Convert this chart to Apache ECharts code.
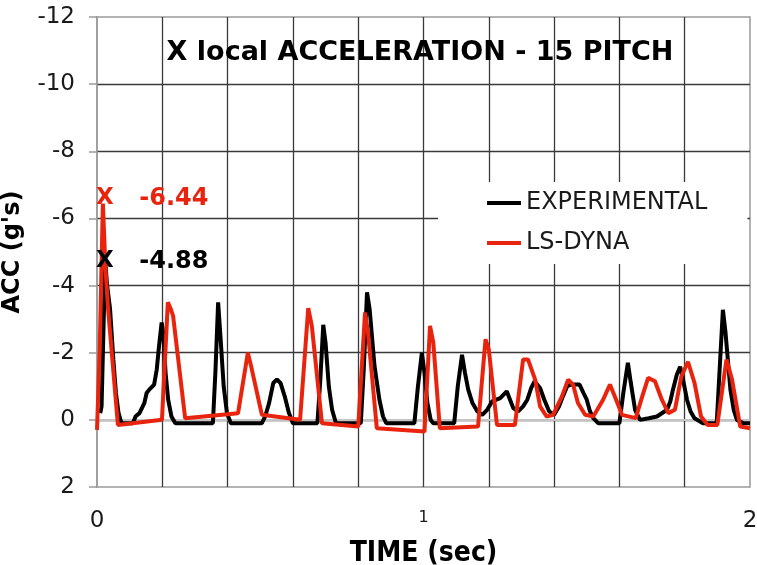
<!DOCTYPE html>
<html>
<head>
<meta charset="utf-8">
<script src="https://cdn.jsdelivr.net/npm/echarts@6/dist/echarts.min.js"></script>
<style>html,body{margin:0;padding:0;background:#fff}#c{width:757px;height:565px}</style>
</head>
<body>
<div id="c"></div>
<script>
// ---- data ----
var titleText = 'X local ACCELERATION - 15 PITCH';
var seriesNames = ['EXPERIMENTAL', 'LS-DYNA'];
var xTickLabels = ['0', '1', '2'];
var yTicks = [-12, -10, -8, -6, -4, -2, 0, 2];

var expT = [0.010,0.014,0.025,0.031,0.040,0.050,0.058,0.066,0.075,0.110,0.118,0.130,0.145,0.152,0.160,0.175,0.183,0.190,0.198,0.203,0.210,0.218,0.228,0.240,0.355,0.363,0.371,0.378,0.388,0.398,0.410,0.505,0.515,0.527,0.540,0.551,0.562,0.575,0.588,0.600,0.675,0.684,0.693,0.700,0.710,0.720,0.732,0.808,0.817,0.827,0.835,0.850,0.865,0.876,0.886,0.972,0.983,0.995,1.003,1.012,1.022,1.030,1.094,1.105,1.118,1.127,1.137,1.150,1.165,1.180,1.195,1.210,1.235,1.255,1.265,1.275,1.290,1.305,1.318,1.330,1.340,1.357,1.370,1.385,1.400,1.415,1.427,1.440,1.452,1.478,1.490,1.500,1.510,1.520,1.535,1.600,1.612,1.626,1.635,1.648,1.663,1.690,1.715,1.746,1.756,1.764,1.776,1.786,1.795,1.807,1.818,1.830,1.856,1.898,1.907,1.917,1.925,1.940,1.950,1.960,1.980,2.000];
var expV = [-0.2,-0.4,-4.75,-4.0,-3.3,-1.8,-0.8,-0.2,0.1,0.1,-0.1,-0.2,-0.5,-0.8,-0.9,-1.05,-1.5,-2.2,-2.9,-2.6,-1.4,-0.6,-0.1,0.1,0.1,-1.5,-3.5,-2.5,-1.0,-0.2,0.1,0.1,-0.1,-0.5,-1.1,-1.2,-1.1,-0.7,-0.2,0.1,0.1,-1.2,-2.83,-2.3,-1.0,-0.3,0.1,0.1,-1.5,-3.8,-3.3,-1.6,-0.6,-0.1,0.1,0.1,-1.0,-2.0,-1.4,-0.5,0.0,0.1,0.1,-1.0,-1.94,-1.4,-0.9,-0.5,-0.25,-0.15,-0.3,-0.55,-0.65,-0.85,-0.6,-0.35,-0.25,-0.4,-0.6,-0.95,-1.15,-0.95,-0.6,-0.25,-0.15,-0.4,-0.7,-1.0,-1.05,-1.05,-0.8,-0.6,-0.25,-0.05,0.1,0.1,-0.8,-1.7,-1.1,-0.3,0.0,-0.05,-0.1,-0.3,-0.55,-0.9,-1.35,-1.58,-1.2,-0.6,-0.25,-0.05,0.1,0.1,-1.5,-3.28,-2.6,-0.9,-0.3,0.0,0.1,0.1];

var dynaT = [0.000,0.008,0.018,0.026,0.034,0.064,0.199,0.217,0.226,0.233,0.270,0.432,0.462,0.472,0.505,0.622,0.647,0.658,0.689,0.800,0.821,0.830,0.857,1.003,1.020,1.030,1.050,1.167,1.190,1.200,1.225,1.280,1.305,1.320,1.342,1.357,1.377,1.397,1.424,1.443,1.458,1.473,1.495,1.520,1.550,1.571,1.590,1.608,1.650,1.670,1.688,1.709,1.730,1.750,1.770,1.790,1.810,1.830,1.850,1.870,1.900,1.928,1.945,1.970,2.000];
var dynaV = [0.3,-2.0,-6.44,-4.5,-3.3,0.15,0.0,-3.5,-3.3,-3.1,-0.05,-0.2,-2.0,-1.6,-0.15,0.0,-3.33,-2.8,0.1,0.2,-3.2,-2.6,0.25,0.35,-2.8,-2.3,0.25,0.2,-2.4,-2.1,0.15,0.15,-1.8,-1.8,-1.2,-0.4,-0.1,-0.15,-0.7,-1.2,-1.05,-0.5,-0.15,-0.1,-0.6,-1.05,-0.6,-0.15,-0.05,-0.7,-1.25,-1.15,-0.6,-0.2,-0.3,-1.3,-1.73,-1.1,-0.1,0.15,0.15,-1.8,-1.2,0.2,0.25];

// peak annotations
var annoT = [0.024, 0.024];
var annoV = [-6.6, -4.72];
var annoText = ['-6.44', '-4.88'];

var colors = ['#000000', '#e8240e'];

function pairs(t, v) { return t.map(function (x, i) { return [x, v[i]]; }); }

var chart = echarts.init(document.getElementById('c'), null, {renderer: 'canvas'});
var font = '"DejaVu Sans", Verdana, sans-serif';

var annoSeries = [];
annoT.forEach(function (t, i) {
  annoSeries.push({
    type: 'scatter', silent: true, symbolSize: 1, z: 5,
    itemStyle: {color: '#fff', opacity: 1},
    data: [[t, annoV[i]]],
    label: {show: true, position: 'inside', formatter: 'X', opacity: 1,
      color: colors[1 - i], fontFamily: font, fontSize: 23, fontWeight: 'bold'}
  });
  annoSeries.push({
    type: 'scatter', silent: true, symbolSize: 1, z: 5,
    itemStyle: {color: '#fff', opacity: 1},
    data: [[t, annoV[i]]],
    label: {show: true, position: 'right', distance: 34, formatter: annoText[i], opacity: 1,
      color: colors[1 - i], fontFamily: font, fontSize: 24, fontWeight: 'bold'}
  });
});

var option = {
  backgroundColor: '#fff',
  animation: false,
  title: {
    text: titleText, left: 420, top: 37, textAlign: 'center', padding: 0,
    textStyle: {fontFamily: font, fontSize: 27, fontWeight: 'bold', color: '#000', lineHeight: 32}
  },
  legend: {
    data: seriesNames, orient: 'vertical', left: 438, top: 182,
    padding: [8, 40, 8, 49], itemGap: 14, itemWidth: 34, itemHeight: 4,
    icon: 'rect', backgroundColor: '#fff', z: 4,
    textStyle: {fontFamily: font, fontSize: 24, color: '#1a1a1a', lineHeight: 26}
  },
  grid: {left: 97, right: 7, top: 17, bottom: 78, containLabel: false, outerBoundsMode: 'none',
    show: true, borderColor: '#9a9a9a', borderWidth: 1.5, backgroundColor: 'transparent'},
  xAxis: {
    type: 'value', min: 0, max: 2, interval: 0.2,
    name: 'TIME (sec)', nameLocation: 'middle', nameGap: 46,
    nameTextStyle: {fontFamily: '"DejaVu Sans Condensed", "DejaVu Sans", sans-serif', fontSize: 28, fontWeight: 'bold', color: '#000', lineHeight: 32},
    axisLine: {show: false}, axisTick: {show: false},
    axisLabel: {
      margin: 23, fontFamily: font, fontSize: 23, color: '#1a1a1a', showMinLabel: true, showMaxLabel: true,
      formatter: function (v) {
        for (var k = 0; k < xTickLabels.length; k++) {
          if (Math.abs(v - Number(xTickLabels[k])) < 1e-6) {
            return xTickLabels[k] === '1' ? '{s|' + xTickLabels[k] + '}' : xTickLabels[k];
          }
        }
        return '';
      },
      rich: {s: {fontFamily: font, fontSize: 16, color: '#1a1a1a', padding: [0, 0, 8, 0]}}
    },
    splitLine: {show: true, showMinLine: false, showMaxLine: false, lineStyle: {color: '#3a3a3a', width: 1.3}}
  },
  yAxis: {
    type: 'value', inverse: true, min: yTicks[0], max: yTicks[yTicks.length - 1], interval: 2,
    name: "ACC (g's)", nameLocation: 'middle', nameGap: 60, nameRotate: 90,
    nameTextStyle: {fontFamily: font, fontSize: 24, fontWeight: 'bold', color: '#000', lineHeight: 28},
    axisLine: {show: true, lineStyle: {color: '#9a9a9a', width: 1.5}},
    axisTick: {show: true, inside: false, length: 8, lineStyle: {color: '#9a9a9a', width: 1.5}},
    axisLabel: {margin: 22, fontFamily: font, fontSize: 23, color: '#1a1a1a'},
    splitLine: {show: true, showMinLine: false, showMaxLine: false, lineStyle: {color: '#3a3a3a', width: 1.3}}
  },
  series: [
    {
      name: seriesNames[0], type: 'line', data: pairs(expT, expV), showSymbol: false, symbol: 'none',
      lineStyle: {color: colors[0], width: 4}, itemStyle: {color: colors[0]}, z: 3,
      markLine: {silent: true, symbol: 'none', label: {show: false}, animation: false,
        lineStyle: {color: '#c4c4c4', width: 2, type: 'solid'}, data: [{yAxis: 0}], z: 1}
    },
    {
      name: seriesNames[1], type: 'line', data: pairs(dynaT, dynaV), showSymbol: false, symbol: 'none',
      lineStyle: {color: colors[1], width: 4}, itemStyle: {color: colors[1]}, z: 3
    }
  ].concat(annoSeries)
};
chart.setOption(option);
</script>
</body>
</html>
